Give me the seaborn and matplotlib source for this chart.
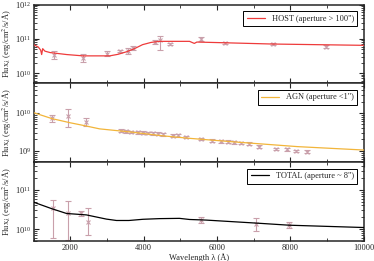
import numpy as np
import pandas as pd
import matplotlib
matplotlib.use('Agg')
from matplotlib import pyplot as plt
from matplotlib.ticker import MultipleLocator, LogLocator, NullFormatter
import seaborn as sns

# HOST model spectrum (aperture > 100")
host_wave = [1000, 1040, 1130, 1195, 1222, 1250, 1310, 1450, 1900, 2350, 3075, 3300, 3530,
             3750, 3970, 4200, 4430, 4975, 5250, 5380, 5450, 6060, 7500, 10000]
host_flux = [6.8e10, 6.5e10, 5.8e10, 4.7e10, 3.5e10, 5.2e10, 4.4e10, 4.0e10, 3.5e10, 3.2e10,
             3.2e10, 3.55e10, 4.2e10, 5.2e10, 6.8e10, 7.9e10, 8.5e10, 8.5e10, 8.5e10, 7.4e10,
             8.1e10, 7.8e10, 7.1e10, 6.5e10]
host_pt_wave = [1555, 2335, 3000, 3350, 3570, 3700, 4320, 4450, 4720, 5560, 6215, 7525, 8955]
host_pt_flux = [3.4e10, 2.8e10, 3.7e10, 4.4e10, 4.5e10, 5.5e10, 8.1e10, 9.1e10, 7.1e10,
                1.0e11, 7.6e10, 6.9e10, 6.0e10]
host_err_lo = [0.115, 0.115, 0.07, 0.03, 0.08, 0.05, 0.05, 0.29, 0.04, 0.06, 0.04, 0.03, 0.04]
host_err_hi = [0.115, 0.115, 0.07, 0.03, 0.08, 0.05, 0.05, 0.14, 0.04, 0.06, 0.04, 0.03, 0.04]

# AGN model (aperture < 1")
agn_wave = [1000, 1500, 2000, 2400, 2800, 3700, 4500, 5250, 6400, 8200, 10000]
agn_flux = [1.02e10, 7.1e9, 5.5e9, 4.6e9, 3.8e9, 3.1e9, 2.5e9, 2.14e9, 1.74e9, 1.29e9, 1.05e9]
agn_pt_wave = [1493, 1945, 2425, 3390, 3530, 3660, 3840, 3980, 4115, 4250, 4390, 4520, 4790,
               4930, 5150, 5560, 5870, 6100, 6300, 6470, 6650, 6875, 7145, 7600, 7910, 8140, 8455]
agn_pt_flux = [7.2e9, 8.3e9, 5.9e9, 3.39e9, 3.24e9, 3.16e9, 3.09e9, 3.02e9, 2.95e9, 2.88e9,
               2.82e9, 2.75e9, 2.51e9, 2.57e9, 2.34e9, 2.04e9, 1.86e9, 1.78e9, 1.74e9, 1.66e9,
               1.62e9, 1.55e9, 1.29e9, 1.12e9, 1.10e9, 1.0e9, 9.5e8]
agn_err_lo = [0.1, 0.3, 0.11] + [0.035] * 24
agn_err_hi = [0.1, 0.19, 0.1] + [0.035] * 24

# TOTAL model (aperture ~ 8")
tot_wave = [1000, 1040, 1500, 1900, 2440, 2985, 3260, 3600, 3980, 4430, 4975, 5250, 5700,
            7145, 7960, 10000]
tot_flux = [4.9e10, 4.7e10, 3.3e10, 2.5e10, 2.3e10, 1.8e10, 1.66e10, 1.66e10, 1.78e10, 1.85e10,
            1.88e10, 1.76e10, 1.7e10, 1.41e10, 1.26e10, 1.1e10]
tot_pt_wave = [1540, 1945, 2307, 2487, 5560, 7055, 7960]
tot_pt_flux = [3.4e10, 2.5e10, 2.5e10, 1.55e10, 1.7e10, 1.32e10, 1.26e10]
tot_err_lo = [0.76, 0.68, 0.06, 0.34, 0.07, 0.17, 0.07]
tot_err_hi = [0.21, 0.32, 0.06, 0.34, 0.07, 0.17, 0.07]

panels = [
    ('HOST (aperture > 100")', '#ee3b3b', host_wave, host_flux, host_pt_wave, host_pt_flux,
     host_err_lo, host_err_hi, (5e9, 1e12)),
    ('AGN (aperture <1")', '#f2b53a', agn_wave, agn_flux, agn_pt_wave, agn_pt_flux,
     agn_err_lo, agn_err_hi, (5e8, 6e10)),
    ('TOTAL (aperture ~ 8")', 'black', tot_wave, tot_flux, tot_pt_wave, tot_pt_flux,
     tot_err_lo, tot_err_hi, (5e9, 5e11)),
]

sns.set_theme(style='ticks')
plt.rcParams['font.family'] = ['Liberation Serif', 'DejaVu Serif']
plt.rcParams['mathtext.fontset'] = 'stix'
plt.rcParams['font.size'] = 6

point_color = '#c9a0ab'

fig, axes = plt.subplots(3, 1, figsize=(3.74, 2.61), dpi=100, sharex=True)
fig.subplots_adjust(left=0.0896, right=0.973, top=0.982, bottom=0.0766, hspace=0)

for ax, (label, color, wave, flux, pw, pf, elo, ehi, ylim) in zip(axes, panels):
    df = pd.DataFrame({'wave': wave, 'flux': flux})
    pf = np.array(pf)
    yerr = [pf - pf / 10 ** np.array(elo), pf * 10 ** np.array(ehi) - pf]
    ax.errorbar(pw, pf, yerr=yerr, fmt='x', color=point_color, ms=2.5, mew=0.8,
                elinewidth=0.8, capsize=2, capthick=0.8, zorder=2)
    sns.lineplot(data=df, x='wave', y='flux', ax=ax, color=color, lw=0.9,
                 label=label, sort=False, estimator=None, zorder=3)
    ax.set_yscale('log')
    ax.set_ylim(*ylim)
    ax.set_xlim(1000, 10000)
    ax.set_ylabel(r'Flux$_\lambda$ (erg/cm$^2$/s/Å)', fontsize=6)
    ax.yaxis.set_label_coords(-0.058, 0.5)
    ax.set_xlabel('')
    ax.xaxis.set_major_locator(MultipleLocator(2000))
    ax.xaxis.set_minor_locator(MultipleLocator(1000))
    ax.yaxis.set_major_locator(LogLocator(base=10))
    ax.yaxis.set_minor_locator(LogLocator(base=10, subs=np.arange(2, 10)))
    ax.yaxis.set_minor_formatter(NullFormatter())
    ax.tick_params(which='both', direction='in', top=True, right=True, labelsize=6, pad=2)
    ax.tick_params(which='major', length=3.5, width=0.8)
    ax.tick_params(which='minor', length=2, width=0.6)
    for sp in ax.spines.values():
        sp.set_linewidth(1.1)
    leg = ax.legend(loc='upper right', fontsize=6, frameon=True, fancybox=False,
                    framealpha=1, edgecolor='black', handlelength=2.2,
                    borderpad=0.4, borderaxespad=0.8)
    leg.get_frame().set_linewidth(0.7)

axes[-1].set_xlabel('Wavelength λ (Å)', fontsize=6, labelpad=1)

fig.savefig('out.png', dpi=100)
